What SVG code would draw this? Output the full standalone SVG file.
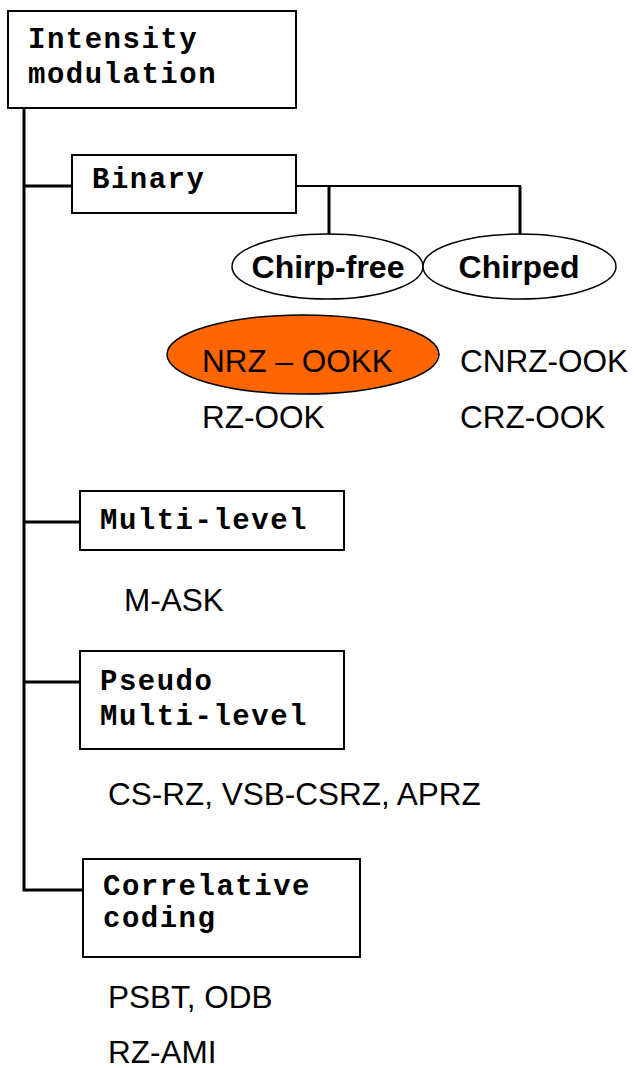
<svg xmlns="http://www.w3.org/2000/svg" width="636" height="1068" viewBox="0 0 636 1068">
<style>
.box{fill:#fff;stroke:#000;stroke-width:2}
.mono{font-family:"Liberation Mono","Courier New",monospace;font-weight:bold;font-size:29px;letter-spacing:1.5px;fill:#000}
.sans{font-family:"Liberation Sans",Arial,sans-serif;font-size:31.5px;fill:#000}
.bold{font-weight:bold;font-size:32px}
.line{fill:none;stroke:#000;stroke-width:3}
.thin{fill:none;stroke:#000;stroke-width:2}
.ell{fill:#fff;stroke:#000;stroke-width:1.5}
</style>
<rect width="636" height="1068" fill="#fff"/>
<g id="connectors">
<path class="line" d="M24 108 V890 H83"/>
<path class="line" d="M24 186 H72"/>
<path class="line" d="M24 522 H80"/>
<path class="line" d="M24 682 H80"/>
<path class="thin" d="M296 186 H520 V234"/>
<path class="line" d="M329 186 V234"/>
<path class="line" d="M520 186 V234"/>
</g>
<g id="intensity">
<rect class="box" x="8" y="11" width="288" height="97"/>
<text class="mono" x="28" y="48">Intensity</text>
<text class="mono" x="28" y="83">modulation</text>
</g>
<g id="binary">
<rect class="box" x="72" y="155" width="224" height="58"/>
<text class="mono" x="92" y="188">Binary</text>
</g>
<g id="chirpfree">
<ellipse class="ell" cx="327.5" cy="266.5" rx="95.5" ry="32.5"/>
<text class="sans bold" x="328" y="278" text-anchor="middle">Chirp-free</text>
</g>
<g id="chirped">
<ellipse class="ell" cx="519.5" cy="266.5" rx="96.5" ry="32.5"/>
<text class="sans bold" x="519" y="278" text-anchor="middle">Chirped</text>
</g>
<g id="nrz">
<ellipse cx="303" cy="354.5" rx="136" ry="39.5" fill="#FF6600" stroke="#000" stroke-width="1.5"/>
<text class="sans" x="202" y="372">NRZ – OOKK</text>
</g>
<g id="chirpfree-items">
<text class="sans" x="202" y="428">RZ-OOK</text>
</g>
<g id="chirped-items">
<text class="sans" x="460" y="372">CNRZ-OOK</text>
<text class="sans" x="460" y="428">CRZ-OOK</text>
</g>
<g id="multilevel">
<rect class="box" x="80" y="491" width="264" height="59"/>
<text class="mono" x="100" y="529">Multi-level</text>
<text class="sans" x="124" y="611">M-ASK</text>
</g>
<g id="pseudo">
<rect class="box" x="80" y="651" width="264" height="98"/>
<text class="mono" x="100" y="690">Pseudo</text>
<text class="mono" x="100" y="725">Multi-level</text>
<text class="sans" x="108" y="805">CS-RZ, VSB-CSRZ, APRZ</text>
</g>
<g id="correlative">
<rect class="box" x="83" y="859" width="277" height="98"/>
<text class="mono" x="103" y="895">Correlative</text>
<text class="mono" x="103" y="927">coding</text>
<text class="sans" x="108" y="1008">PSBT, ODB</text>
<text class="sans" x="108" y="1063">RZ-AMI</text>
</g>
</svg>
